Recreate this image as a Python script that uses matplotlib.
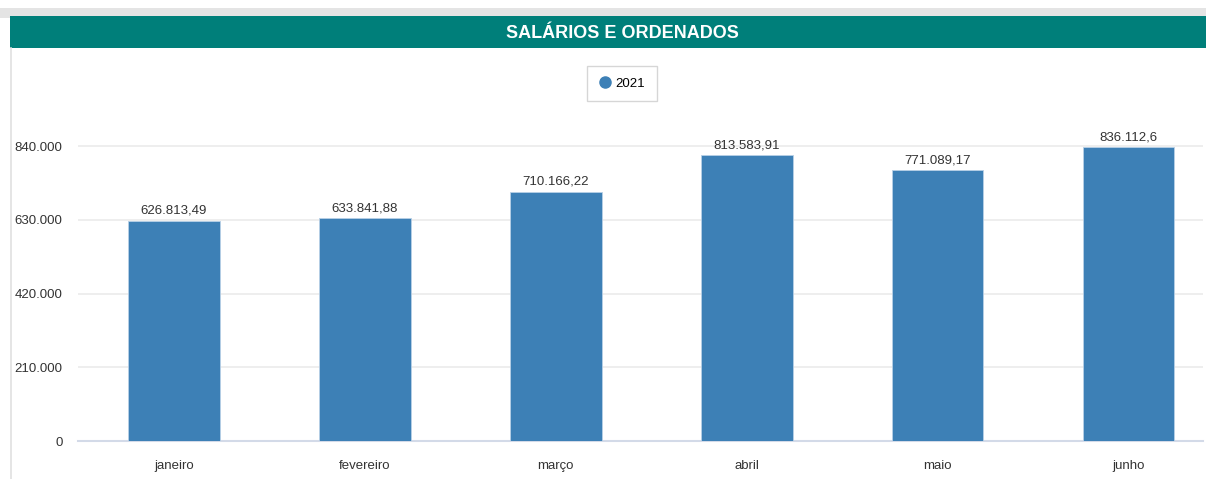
import numpy as np
import matplotlib.pyplot as plt
from matplotlib.patches import Rectangle
from matplotlib.lines import Line2D

months = ["janeiro", "fevereiro", "março", "abril", "maio", "junho"]
values = [626813.49, 633841.88, 710166.22, 813583.91, 771089.17, 836112.6]
value_labels = ["626.813,49", "633.841,88", "710.166,22", "813.583,91", "771.089,17", "836.112,6"]
yticks = [0, 210000, 420000, 630000, 840000]
ytick_labels = ["0", "210.000", "420.000", "630.000", "840.000"]
title = "SALÁRIOS E ORDENADOS"
series_name = "2021"

W, H = 1206, 479
bar_color = "#3d80b6"
header_color = "#007f7a"

plt.rcParams["font.family"] = ["Liberation Sans Narrow", "Liberation Sans", "DejaVu Sans"]

fig = plt.figure(figsize=(W / 100, H / 100), dpi=100)
fig.patch.set_facecolor("white")

# top gray strip, teal title bar, left border
fig.add_artist(Rectangle((0, 1 - 18 / H), 1, 10 / H, transform=fig.transFigure,
                         color="#e4e4e4", lw=0))
fig.add_artist(Rectangle((10 / W, 1 - 48 / H), 1, 32 / H, transform=fig.transFigure,
                         color=header_color, lw=0))
fig.add_artist(Line2D([10.5 / W, 10.5 / W], [0, 1 - 48 / H], transform=fig.transFigure,
                      color="#e0e0e0", lw=1.2))
fig.text(622 / W, 1 - 33 / H, title, color="white", fontsize=13, fontweight="bold",
         ha="center", va="center")

# axes placement in pixels
y0_px, y840_px, top_px = 441, 146, 120
ax = fig.add_axes([78 / W, (H - y0_px) / H, (1203 - 78) / W, (y0_px - top_px) / H])
ytop = 840000 * (y0_px - top_px) / (y0_px - y840_px)

x = np.arange(len(months))
bars = ax.bar(x, values, width=0.48, color=bar_color, edgecolor="#b8d0e6", linewidth=0.6,
              zorder=3)
for xi, v, lab in zip(x, values, value_labels):
    ax.annotate(lab, (xi, v), xytext=(0, 3), textcoords="offset points", ha="center",
                va="bottom", fontsize=9.5, color="#333333", clip_on=False)

ax.set_xlim(-0.503, 5.39)
ax.set_ylim(0, ytop)
ax.set_yticks(yticks)
ax.set_yticklabels(ytick_labels)
ax.set_xticks(x)
ax.set_xticklabels(months)
ax.tick_params(axis="both", length=0, labelsize=9.5, labelcolor="#333333")
ax.tick_params(axis="y", pad=11)
ax.tick_params(axis="x", pad=14)
ax.grid(axis="y", color="#ebebeb", lw=1.2, zorder=0)
for s in ["top", "right", "left"]:
    ax.spines[s].set_visible(False)
ax.spines["bottom"].set_color("#d3dae8")
ax.spines["bottom"].set_linewidth(1.5)

handle = Line2D([], [], marker="o", ls="none", color=bar_color, markersize=8)
fig.legend([handle], [series_name], loc="center", bbox_to_anchor=(622 / W, 1 - 83.5 / H),
           fontsize=9.5, frameon=True, fancybox=False, edgecolor="#cccccc",
           handletextpad=0.3, borderpad=0.85, handlelength=1.0)

fig.savefig("out.png", dpi=100)
